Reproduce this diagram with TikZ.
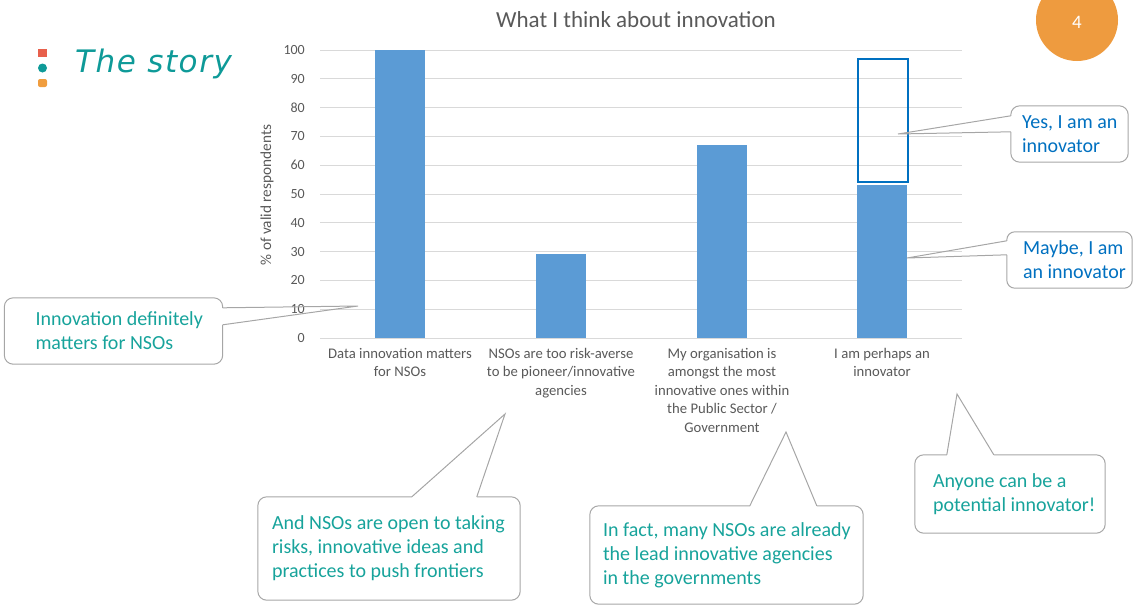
\documentclass[tikz,border=0pt]{standalone}
\usepackage{fontspec}
\setmainfont{Carlito}
\newfontfamily\storyfont[LetterSpace=5]{DejaVu Sans}
\usetikzlibrary{calc}
\usetikzlibrary{positioning}

\definecolor{barblue}{HTML}{5B9BD5}
\definecolor{lineblue}{HTML}{0070C0}
\definecolor{noteteal}{HTML}{17A39B}
\definecolor{storyteal}{HTML}{0E9A98}
\definecolor{axisgray}{HTML}{595959}
\definecolor{gridgray}{HTML}{D9D9D9}
\definecolor{edgegray}{HTML}{A6A6A6}
\definecolor{markred}{HTML}{E8604C}
\definecolor{markorange}{HTML}{F09D3E}
\definecolor{pageorange}{HTML}{EE9B3F}

\begin{document}
\begin{tikzpicture}[x=1pt, y=-1pt,
    ticklabel/.style={font=\fontsize{14}{16}\selectfont, text=axisgray, anchor=east, inner sep=0pt},
    catlabel/.style={font=\fontsize{14.7}{18.5}\selectfont, text=axisgray, align=center, anchor=north, inner sep=0pt},
    notebox/.style={inner sep=0pt},
    notetext/.style={font=\fontsize{20}{24}\selectfont, text=noteteal, align=left, inner sep=0pt},
    bubble/.style={draw=edgegray, line width=1pt}]
    \useasboundingbox (0,0) rectangle (1134,605);

    % heading and page marker
    \fill[markred] (38,49) rectangle (47,57);
    \fill[storyteal] (42.5,68) circle (4.5);
    \fill[markorange, rounded corners=2pt] (38,79) rectangle (47,87);
    \node[anchor=base west, inner sep=0pt, text=storyteal,
          font=\storyfont\itshape\fontsize{31}{33}\selectfont] (story) at (75,72) {The story};
    \fill[pageorange] (1077,20) circle (41);
    \node[text=white, font=\fontsize{19}{21}\selectfont] (page) at (1077,22) {4};

    % chart
    \node[font=\fontsize{23}{26}\selectfont, text=axisgray] (title) at (636,20) {What I think about innovation};
    \foreach \v in {0,10,...,100} {
        \draw[gridgray, line width=1pt] (320,{338-2.88*\v}) -- (962,{338-2.88*\v});
        \node[ticklabel] (tick\v) at (305,{338-2.88*\v}) {\v};
    }
    \node[rotate=90, font=\fontsize{15.3}{17}\selectfont, text=axisgray] (ytitle) at (267,195) {\% of valid respondents};
    \foreach \x/\v in {400/100, 561/29, 722/67, 882/53}
        \fill[barblue] (\x-25,338) rectangle (\x+25,{338-2.88*\v});
    \draw[lineblue, line width=2pt] (857.5,{338-2.88*97}) rectangle (907.5,{338-2.88*54});

    \node[catlabel] (cat1) at (400,348) {Data innovation matters\\for NSOs};
    \node[catlabel] (cat2) at (561,348) {NSOs are too risk-averse\\to be pioneer/innovative\\agencies};
    \node[catlabel] (cat3) at (722,348) {My organisation is\\amongst the most\\innovative ones within\\the Public Sector /\\Government};
    \node[catlabel] (cat4) at (882,348) {I am perhaps an\\innovator};

    % callouts
    \node[notebox, minimum width=218pt, minimum height=66pt] (b1) at (113.5,331) {};
    \node[notetext, right=31pt of b1.west] (t1) {Innovation definitely\\matters for NSOs};
    \coordinate (p1) at (358,306);
    \draw[bubble] ($(b1.north east)+(0,10)$) -- (p1) -- ($(b1.north east)+(0,27)$);
    \draw[bubble, rounded corners=9pt] ($(b1.north east)+(0,27)$) -- (b1.south east) -- (b1.south west)
        -- (b1.north west) -- (b1.north east) -- ($(b1.north east)+(0,10)$);

    \node[notebox, minimum width=117pt, minimum height=56pt] (by) at (1069.5,134) {};
    \node[notetext, text=lineblue, right=11pt of by.west] (ty) {Yes, I am an\\innovator};
    \coordinate (py) at (898,134);
    \draw[bubble] ($(by.north west)+(0,10)$) -- (py) -- ($(by.north west)+(0,26)$);
    \draw[bubble, rounded corners=9pt] ($(by.north west)+(0,26)$) -- (by.south west) -- (by.south east)
        -- (by.north east) -- (by.north west) -- ($(by.north west)+(0,10)$);

    \node[notebox, minimum width=125pt, minimum height=56pt] (bm) at (1069.5,260) {};
    \node[notetext, text=lineblue, right=16pt of bm.west] (tm) {Maybe, I am\\an innovator};
    \coordinate (pm) at (907,258);
    \draw[bubble] ($(bm.north west)+(0,9)$) -- (pm) -- ($(bm.north west)+(0,23)$);
    \draw[bubble, rounded corners=8pt] ($(bm.north west)+(0,23)$) -- (bm.south west) -- (bm.south east)
        -- (bm.north east) -- (bm.north west) -- ($(bm.north west)+(0,9)$);

    \node[notebox, minimum width=262pt, minimum height=103pt] (b4) at (389,548.5) {};
    \node[notetext, right=14pt of b4.west] (t4) {And NSOs are open to taking\\risks, innovative ideas and\\practices to push frontiers};
    \coordinate (p4) at (505,414);
    \draw[bubble] ($(b4.north west)+(154,0)$) -- (p4) -- ($(b4.north west)+(219,0)$);
    \draw[bubble, rounded corners=9pt] ($(b4.north west)+(219,0)$) -- (b4.north east) -- (b4.south east)
        -- (b4.south west) -- (b4.north west) -- ($(b4.north west)+(154,0)$);

    \node[notebox, minimum width=273pt, minimum height=98pt] (b5) at (726.5,555) {};
    \node[notetext, right=13pt of b5.west] (t5) {In fact, many NSOs are already\\the lead innovative agencies\\in the governments};
    \coordinate (p5) at (786,432);
    \draw[bubble] ($(b5.north west)+(160,0)$) -- (p5) -- ($(b5.north west)+(227,0)$);
    \draw[bubble, rounded corners=9pt] ($(b5.north west)+(227,0)$) -- (b5.north east) -- (b5.south east)
        -- (b5.south west) -- (b5.north west) -- ($(b5.north west)+(160,0)$);

    \node[notebox, minimum width=190pt, minimum height=78pt] (b6) at (1010,494) {};
    \node[notetext, right=18pt of b6.west] (t6) {Anyone can be a\\potential innovator!};
    \coordinate (p6) at (957,394);
    \draw[bubble] ($(b6.north west)+(32,0)$) -- (p6) -- ($(b6.north west)+(79,0)$);
    \draw[bubble, rounded corners=9pt] ($(b6.north west)+(79,0)$) -- (b6.north east) -- (b6.south east)
        -- (b6.south west) -- (b6.north west) -- ($(b6.north west)+(32,0)$);
\end{tikzpicture}
\end{document}
